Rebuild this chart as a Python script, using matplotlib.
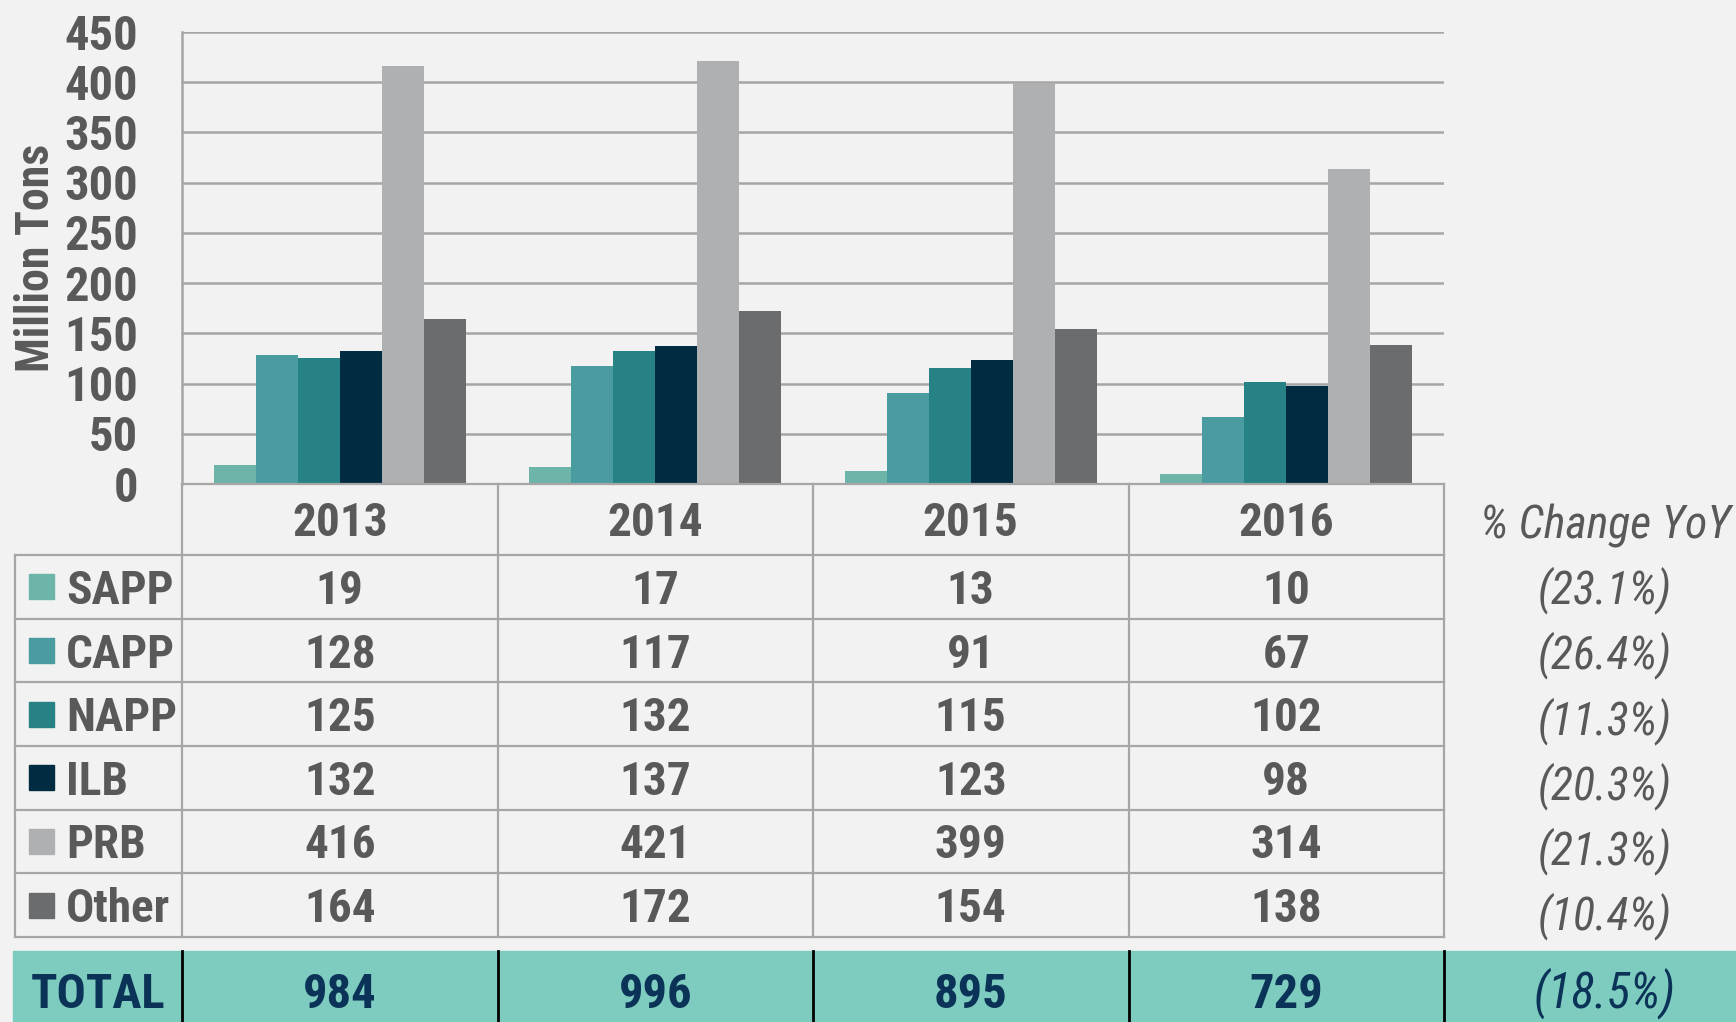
import matplotlib.pyplot as plt
import matplotlib.transforms as mtransforms
import numpy as np
from matplotlib import font_manager as fm

years = ["2013", "2014", "2015", "2016"]
basins = ["SAPP", "CAPP", "NAPP", "ILB", "PRB", "Other"]
sapp = [19, 17, 13, 10]
capp = [128, 117, 91, 67]
napp = [125, 132, 115, 102]
ilb = [132, 137, 123, 98]
prb = [416, 421, 399, 314]
other = [164, 172, 154, 138]
totals = [984, 996, 895, 729]
yoy_change = ["(23.1%)", "(26.4%)", "(11.3%)", "(20.3%)", "(21.3%)", "(10.4%)"]
total_change = "(18.5%)"

colors = ["#6db5a8", "#4a9ca0", "#268285", "#002b40", "#afb0b2", "#6b6c6e"]
bg = "#f1f2f1"
txt = "#595959"
navy = "#0b3257"
grid_c = "#a6a6a6"


def wnum(w):
    if isinstance(w, str):
        return int(w) if w.isdigit() else fm.weight_dict.get(w, 400)
    return int(w)


# narrow sans in the original: take the first Arial-Narrow-like face installed
prefer = ["Liberation Sans Narrow", "Nimbus Sans Narrow", "Arial Narrow",
          "Roboto Condensed", "PT Sans Narrow", "IBM Plex Sans Condensed",
          "Open Sans Condensed", "Asap Condensed", "Barlow Condensed"]
faces = fm.fontManager.ttflist


def find_face(names, bold, italic):
    for n in names:
        for f in faces:
            if f.name != n:
                continue
            w = wnum(f.weight)
            if (w >= 700 if bold else 350 <= w < 600) and ((f.style != "normal") == italic):
                return f.fname
    return None


bold_file = find_face(prefer, True, False)
ital_file = find_face(prefer, False, True)
if bold_file:
    fp_bold = fm.FontProperties(fname=bold_file)
else:
    fp_bold = fm.FontProperties(family="DejaVu Sans", weight="bold", stretch="condensed")
if ital_file:
    fp_ital = fm.FontProperties(fname=ital_file)
else:
    fp_ital = fm.FontProperties(family="DejaVu Sans", style="italic", stretch="condensed")

W, H = 1736, 1022
fig = plt.figure(figsize=(W / 100, H / 100), dpi=100, facecolor=bg)
CAP = 0.72  # cap height / em


def put(target, x, y, s, size, color, fp, **kw):
    # y is the visual centre of the digits/capitals
    p = fp.copy()
    p.set_size(size)
    dy = CAP * size * 100 / 72 / 2
    return target.text(x, y + dy, s, color=color, fontproperties=p,
                       va="baseline", **kw)


# chart area (pixel layout of the original)
left, right, top, zero = 182, 1444, 32, 484
ax = fig.add_axes([left / W, 1 - zero / H, (right - left) / W, (zero - top) / H])
ax.set_facecolor(bg)
series = [sapp, capp, napp, ilb, prb, other]
x = np.arange(len(years))
bw = 42 / 315.5
for i, (vals, c) in enumerate(zip(series, colors)):
    ax.bar(x + (i - 2.5) * bw, vals, width=bw, color=c, zorder=3)
ax.set_xlim(-0.5, 3.5)
ax.set_ylim(0, 450)
ax.set_yticks(range(0, 451, 50))
ax.set_yticklabels([])
ax.set_xticks([])
ax.tick_params(axis="y", length=0)
ax.yaxis.grid(True, color=grid_c, lw=1.8, zorder=0)
for s in ["top", "right", "bottom"]:
    ax.spines[s].set_visible(False)
ax.spines["left"].set_color(grid_c)
ax.spines["left"].set_linewidth(1.8)

tick_size = 35
tick_shift = mtransforms.ScaledTranslation(
    -44 / 100, -CAP * tick_size * 100 / 72 / 2 / 100, fig.dpi_scale_trans)
tp = fp_bold.copy()
tp.set_size(tick_size)
for v in ax.get_yticks():
    ax.text(-0.5, v, f"{v:.0f}", color=txt, fontproperties=tp, ha="right",
            va="baseline", transform=ax.transData + tick_shift, clip_on=False)

# table below the chart, drawn in pixel space
tab = fig.add_axes([0, 0, 1, 1])
tab.set_xlim(0, W)
tab.set_ylim(H, 0)
tab.axis("off")
tab.patch.set_alpha(0)

yl = fp_bold.copy()
yl.set_size(33)
tab.text(49, 258, "Million Tons", rotation=90, rotation_mode="anchor",
         ha="center", va="baseline", color=txt, fontproperties=yl)

col_x = np.linspace(left, right, len(years) + 1)
row_y = np.linspace(555, 937, len(basins) + 1)
lw = 1.6
tab.plot([left, right], [zero, zero], color=grid_c, lw=lw)
for cx in col_x:
    tab.plot([cx, cx], [zero, row_y[-1]], color=grid_c, lw=lw)
tab.plot([15, 15], [row_y[0], row_y[-1]], color=grid_c, lw=lw)
for ry in row_y:
    tab.plot([15, right], [ry, ry], color=grid_c, lw=lw)

num_size = 34
pct_size = 33
pct_x = 1605
for j, yr in enumerate(years):
    cx = (col_x[j] + col_x[j + 1]) / 2
    put(tab, cx, (zero + row_y[0]) / 2, yr, num_size, txt, fp_bold, ha="center")
put(tab, pct_x, 522, "% Change YoY", pct_size, txt, fp_ital, ha="center")

for i, name in enumerate(basins):
    cy = (row_y[i] + row_y[i + 1]) / 2
    tab.add_patch(plt.Rectangle((29, cy - 12.5), 25, 25, color=colors[i]))
    put(tab, 66, cy, name, num_size, txt, fp_bold, ha="left")
    for j in range(len(years)):
        cx = (col_x[j] + col_x[j + 1]) / 2
        put(tab, cx, cy, str(series[i][j]), num_size, txt, fp_bold, ha="center")
    put(tab, pct_x, 587 + 65.2 * i, yoy_change[i], pct_size, txt, fp_ital, ha="center")

# total row
tab.add_patch(plt.Rectangle((13, 951), W - 13, H - 951 + 5, color="#7dccbf"))
for cx in col_x:
    tab.plot([cx, cx], [951, H], color="black", lw=2)
put(tab, 98, 990, "TOTAL", 35, navy, fp_bold, ha="center")
for j, tot in enumerate(totals):
    cx = (col_x[j] + col_x[j + 1]) / 2
    put(tab, cx, 990, str(tot), 35, navy, fp_bold, ha="center")
put(tab, pct_x, 990, total_change, 35, navy, fp_ital, ha="center")

fig.savefig("out.png", dpi=100, facecolor=bg)
